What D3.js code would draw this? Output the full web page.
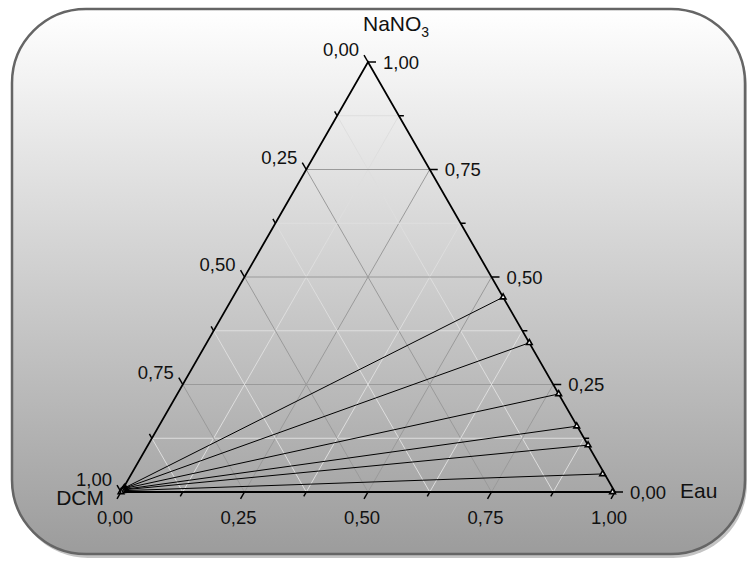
<!DOCTYPE html>
<html>
<head>
<meta charset="utf-8">
<script src="https://cdn.jsdelivr.net/npm/d3@7"></script>
<style>
  html, body { margin: 0; padding: 0; background: #ffffff; }
  svg { display: block; }
  text { font-family: "Liberation Sans", Arial, sans-serif; fill: #111; }
</style>
</head>
<body>
<svg id="chart" width="748" height="561"></svg>
<script>
// Ternary diagram DCM / Eau / NaNO3 with tie lines (mass fractions)

// Axis ticks (fractions) and their printed labels
const tickValues = [0, 0.125, 0.25, 0.375, 0.5, 0.625, 0.75, 0.875, 1];
const majorTicks = [0, 0.25, 0.5, 0.75, 1];
const majorLabels = ["0,00", "0,25", "0,50", "0,75", "1,00"];

// Tie lines: DCM-rich end (near DCM vertex) and aqueous end (Eau–NaNO3 side)
const tieLeftEau    = [0.003, 0.003, 0.002, 0.002, 0.002, 0.001, 0.000];
const tieLeftNaNO3  = [0.010, 0.009, 0.008, 0.006, 0.005, 0.003, 0.000];
const tieRightEau   = [0.547, 0.653, 0.772, 0.846, 0.891, 0.954, 0.995];
const tieRightNaNO3 = [0.453, 0.347, 0.228, 0.153, 0.109, 0.042, 0.000];

const svg = d3.select("#chart");

// Frame geometry
const x0 = 121, y0 = 492, W = 494, H = 430;
const xs = d3.scaleLinear().domain([0, 1]).range([x0, x0 + W]);
const ys = d3.scaleLinear().domain([0, 1]).range([y0, y0 - H]);
// composition (eau, nano3) -> screen point; DCM = 1 - eau - nano3
const P = (eau, nano3) => [xs(eau + nano3 / 2), ys(nano3)];

// Background panel with gradient and soft shadow
const defs = svg.append("defs");
const grad = defs.append("linearGradient").attr("id", "bg")
  .attr("x1", 0).attr("y1", 0).attr("x2", 0).attr("y2", 1);
grad.append("stop").attr("offset", "0%").attr("stop-color", "#ffffff");
grad.append("stop").attr("offset", "100%").attr("stop-color", "#9c9c9c");

svg.append("rect").attr("x", 14).attr("y", 12).attr("width", 733).attr("height", 546)
  .attr("rx", 74).attr("ry", 74).attr("fill", "#c4c4c4");
svg.append("rect").attr("x", 12).attr("y", 9).attr("width", 733).attr("height", 545)
  .attr("rx", 74).attr("ry", 74).attr("fill", "url(#bg)")
  .attr("stroke", "#656565").attr("stroke-width", 2.5);

const g = svg.append("g");

// Grid lines for each component
const inner = tickValues.filter(v => v > 0 && v < 1);
const isMajor = v => Math.abs(v * 4 - Math.round(v * 4)) < 1e-9;
const gridColor = v => isMajor(v) ? "#9a9a9a" : "#dedede";

inner.forEach(v => {
  // constant NaNO3 (horizontal)
  let a = P(0, v), b = P(1 - v, v);
  g.append("line").attr("x1", a[0]).attr("y1", a[1]).attr("x2", b[0]).attr("y2", b[1])
    .attr("stroke", gridColor(v)).attr("stroke-width", 1);
  // constant Eau (parallel to left edge)
  a = P(v, 0); b = P(v, 1 - v);
  g.append("line").attr("x1", a[0]).attr("y1", a[1]).attr("x2", b[0]).attr("y2", b[1])
    .attr("stroke", gridColor(v)).attr("stroke-width", 1);
  // constant DCM (parallel to right edge)
  a = P(0, 1 - v); b = P(1 - v, 0);
  g.append("line").attr("x1", a[0]).attr("y1", a[1]).attr("x2", b[0]).attr("y2", b[1])
    .attr("stroke", gridColor(v)).attr("stroke-width", 1);
});

// Tie lines
const ties = d3.range(tieRightEau.length).map(i => ({
  a: P(tieLeftEau[i], tieLeftNaNO3[i]),
  b: P(tieRightEau[i], tieRightNaNO3[i])
}));
g.selectAll("line.tie").data(ties).join("line").attr("class", "tie")
  .attr("x1", d => d.a[0]).attr("y1", d => d.a[1])
  .attr("x2", d => d.b[0]).attr("y2", d => d.b[1])
  .attr("stroke", "#000").attr("stroke-width", 1);

// Triangle edges
const vA = P(0, 0), vB = P(1, 0), vC = P(0, 1);
g.append("path").attr("d", `M${vA[0]},${vA[1]}L${vB[0]},${vB[1]}L${vC[0]},${vC[1]}Z`)
  .attr("fill", "none").attr("stroke", "#000").attr("stroke-width", 1.8)
  .attr("stroke-linejoin", "miter");

// Markers at both ends of each tie line
const tri = d3.symbol().type(d3.symbolTriangle).size(14);
const ends = ties.flatMap(d => [d.a, d.b]);
g.selectAll("path.mk").data(ends).join("path").attr("class", "mk")
  .attr("d", tri).attr("transform", d => `translate(${d[0]},${d[1]})`)
  .attr("fill", "#fff").attr("stroke", "#000").attr("stroke-width", 1.6);

// Axis ticks and labels
const unit = (dx, dy) => { const n = Math.hypot(dx, dy); return [dx / n, dy / n]; };
const dBottom = unit(vA[0] - vC[0], vA[1] - vC[1]);   // down-left, along left edge
const dLeft = unit(vC[0] - vB[0], vC[1] - vB[1]);     // up-left, along right edge
const fs = 18.5, fsTitle = 21;

tickValues.forEach(v => {
  const len = isMajor(v) ? 8 : 5;
  // Bottom axis: Eau
  let p = P(v, 0);
  g.append("line").attr("x1", p[0]).attr("y1", p[1])
    .attr("x2", p[0] + len * dBottom[0]).attr("y2", p[1] + len * dBottom[1])
    .attr("stroke", "#000").attr("stroke-width", 1.5);
  // Left axis: DCM
  p = P(0, 1 - v);
  g.append("line").attr("x1", p[0]).attr("y1", p[1])
    .attr("x2", p[0] + len * dLeft[0]).attr("y2", p[1] + len * dLeft[1])
    .attr("stroke", "#000").attr("stroke-width", 1.5);
  // Right axis: NaNO3
  p = P(1 - v, v);
  g.append("line").attr("x1", p[0]).attr("y1", p[1])
    .attr("x2", p[0] + len).attr("y2", p[1])
    .attr("stroke", "#000").attr("stroke-width", 1.5);
});

majorTicks.forEach((v, i) => {
  let p = P(v, 0);
  g.append("text").attr("x", p[0] - 6).attr("y", p[1] + 32)
    .attr("text-anchor", "middle").attr("font-size", fs).text(majorLabels[i]);
  p = P(0, 1 - v);
  g.append("text").attr("x", p[0] - 9).attr("y", p[1] - 6)
    .attr("text-anchor", "end").attr("font-size", fs).text(majorLabels[i]);
  p = P(1 - v, v);
  g.append("text").attr("x", p[0] + 15).attr("y", p[1] + 6.5)
    .attr("text-anchor", "start").attr("font-size", fs).text(majorLabels[i]);
});

// Component names at the vertices
const apex = P(0, 1);
const t = g.append("text").attr("x", apex[0] - 5).attr("y", apex[1] - 31)
  .attr("text-anchor", "start").attr("font-size", fsTitle);
t.append("tspan").text("NaNO");
t.append("tspan").attr("font-size", 14).attr("dy", 6).text("3");

const corner = P(1, 0);
g.append("text").attr("x", corner[0] + 65).attr("y", corner[1] + 6)
  .attr("font-size", fsTitle).text("Eau");

g.append("text").attr("x", vA[0] - 17).attr("y", vA[1] + 13)
  .attr("text-anchor", "end").attr("font-size", fsTitle).text("DCM");
</script>
</body>
</html>
